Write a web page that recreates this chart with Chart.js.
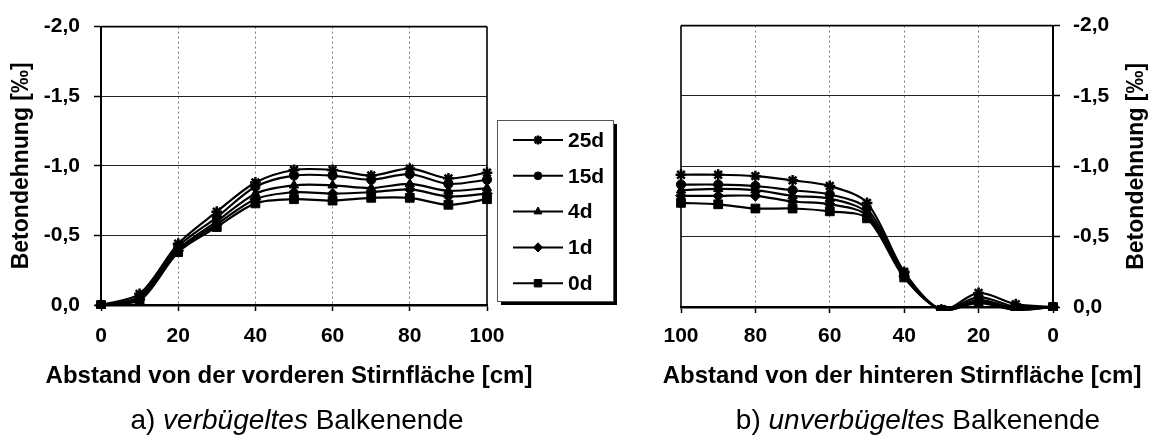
<!DOCTYPE html>
<html>
<head>
<meta charset="utf-8">
<script src="https://cdn.jsdelivr.net/npm/chart.js@4.4.0/dist/chart.umd.min.js"></script>
<style>
  html, body { margin: 0; padding: 0; background: #fff; }
  #wrap { position: relative; width: 1154px; height: 447px; overflow: hidden; background: #fff; }
  canvas { position: absolute; top: 0; }
  #cLeft { left: 0; }
  #cRight { left: 620px; }
</style>
</head>
<body>
<div id="wrap">
  <canvas id="cLeft" width="620" height="447"></canvas>
  <canvas id="cRight" width="534" height="447"></canvas>
</div>
<script>
// Age of the concrete at loading
const seriesNames = ['25d', '15d', '4d', '1d', '0d'];
const markerStyles = ['star', 'circle', 'triangle', 'rectRot', 'rect'];
const markerRadii = [5.4, 4.6, 5.4, 5.4, 6.2];

// Tick labels
const strainTicks = [-2.0, -1.5, -1.0, -0.5, 0.0];
const distanceTicks = [0, 20, 40, 60, 80, 100];

// a) end with stirrups: distance from the front face [cm]
const frontDistance = [0, 10, 20, 30, 40, 50, 60, 70, 80, 90, 100];
const front25d = [0, -0.08, -0.44, -0.67, -0.88, -0.97, -0.97, -0.93, -0.98, -0.91, -0.95];
const front15d = [0, -0.06, -0.42, -0.63, -0.85, -0.93, -0.93, -0.90, -0.94, -0.87, -0.90];
const front4d  = [0, -0.05, -0.40, -0.60, -0.80, -0.86, -0.86, -0.84, -0.87, -0.82, -0.84];
const front1d  = [0, -0.04, -0.39, -0.58, -0.76, -0.81, -0.80, -0.81, -0.83, -0.78, -0.80];
const front0d  = [0, -0.03, -0.38, -0.56, -0.73, -0.76, -0.75, -0.77, -0.77, -0.72, -0.76];

// b) end without stirrups: distance from the rear face [cm]
const backDistance = [100, 90, 80, 70, 60, 50, 40, 30, 20, 10, 0];
const back25d = [-0.94, -0.94, -0.93, -0.90, -0.86, -0.74, -0.25, 0.02, -0.10, -0.02, 0];
const back15d = [-0.87, -0.87, -0.86, -0.83, -0.80, -0.70, -0.24, 0.02, -0.07, 0.00, 0];
const back4d  = [-0.83, -0.84, -0.83, -0.79, -0.77, -0.67, -0.23, 0.02, -0.05, 0.01, 0];
const back1d  = [-0.79, -0.79, -0.79, -0.75, -0.73, -0.65, -0.22, 0.02, -0.04, 0.02, 0];
const back0d  = [-0.74, -0.73, -0.70, -0.70, -0.68, -0.63, -0.21, 0.02, -0.03, 0.02, 0];

// Axis titles and captions
const strainTitle = 'Betondehnung [‰]';
const frontTitle = 'Abstand von der vorderen Stirnfläche [cm]';
const backTitle = 'Abstand von der hinteren Stirnfläche [cm]';
const captionLeft = ['a) ', 'verbügeltes', ' Balkenende'];
const captionRight = ['b) ', 'unverbügeltes', ' Balkenende'];

const FONT = "'Liberation Sans', Arial, Helvetica, sans-serif";
const TICK_FONT = { family: FONT, size: 21, weight: 'bold' };
const Y_TITLE_FONT = { family: FONT, size: 23, weight: 'bold' };
const X_TITLE_PX = 24;
const CAPTION_PX = 28;
const X_TITLE_Y = 376;
const CAPTION_Y = 421;

const strainLabel = v => Number(v).toFixed(1).replace('.', ',');

function buildDatasets(xs, seriesList) {
  return seriesList.map((vals, i) => ({
    label: seriesNames[i],
    data: xs.map((x, j) => ({ x: x, y: vals[j] })),
    borderColor: '#000',
    backgroundColor: '#000',
    borderWidth: 2.2,
    tension: 0.3,
    fill: false,
    pointStyle: markerStyles[i],
    pointRadius: markerRadii[i],
    pointBorderWidth: markerStyles[i] === 'star' ? 2.5 : 1,
    pointBackgroundColor: '#000',
    pointBorderColor: '#000',
    clip: { left: 10, right: 10, top: 10, bottom: 4 }
  }));
}

// thin frame lines on the sides of the plot area that carry no axis
const framePlugin = {
  id: 'frame',
  beforeDatasetsDraw(chart, args, o) {
    const { ctx, chartArea: a } = chart;
    ctx.save();
    ctx.strokeStyle = '#000';
    ctx.lineWidth = 1.6;
    ctx.beginPath();
    ctx.moveTo(a.left, a.top);
    ctx.lineTo(a.right, a.top);
    if (o.side === 'right') {
      ctx.moveTo(a.right, a.top);
      ctx.lineTo(a.right, a.bottom);
    } else {
      ctx.moveTo(a.left, a.top);
      ctx.lineTo(a.left, a.bottom);
    }
    ctx.stroke();
    ctx.restore();
  }
};

function drawMarker(ctx, style, r, bw, x, y) {
  if (Chart.helpers && Chart.helpers.drawPoint) {
    ctx.fillStyle = '#000';
    ctx.strokeStyle = '#000';
    ctx.lineWidth = bw;
    Chart.helpers.drawPoint(ctx, { pointStyle: style, radius: r, rotation: 0, borderWidth: bw }, x, y);
  }
}

// legend box with drop shadow, built from the chart's datasets
const legendPlugin = {
  id: 'boxLegend',
  afterDraw(chart, args, o) {
    const { ctx } = chart;
    const x0 = o.x, y0 = o.y, w = o.w, h = o.h, sh = 4;
    ctx.save();
    ctx.fillStyle = '#fff';
    ctx.fillRect(x0, y0, w, h);
    ctx.fillStyle = '#000';
    ctx.fillRect(x0 + w, y0 + sh, sh, h);
    ctx.fillRect(x0 + sh, y0 + h, w, sh);
    ctx.strokeStyle = '#555';
    ctx.lineWidth = 1;
    ctx.strokeRect(x0 + 0.5, y0 + 0.5, w, h);
    chart.data.datasets.forEach((ds, i) => {
      const y = o.firstRow + i * o.rowGap;
      ctx.strokeStyle = '#000';
      ctx.lineWidth = 2;
      ctx.beginPath();
      ctx.moveTo(o.lineX0, y);
      ctx.lineTo(o.lineX1, y);
      ctx.stroke();
      drawMarker(ctx, ds.pointStyle, ds.pointRadius * 0.85, ds.pointBorderWidth, (o.lineX0 + o.lineX1) / 2, y);
      ctx.fillStyle = '#000';
      ctx.font = 'bold 21px ' + FONT;
      ctx.textAlign = 'left';
      ctx.textBaseline = 'middle';
      ctx.fillText(ds.label, o.textX, y + 1);
    });
    ctx.restore();
  }
};

// texts around the plot: x-axis title, caption, optional right-hand y title
const textsPlugin = {
  id: 'texts',
  afterDraw(chart, args, o) {
    const { ctx, chartArea: a } = chart;
    ctx.save();
    ctx.fillStyle = '#000';
    ctx.textBaseline = 'middle';

    // x-axis title
    ctx.font = 'bold ' + X_TITLE_PX + 'px ' + FONT;
    ctx.textAlign = 'center';
    ctx.fillText(o.xTitle, o.xTitleCx, X_TITLE_Y);

    // caption, emphasised middle word
    const fonts = [CAPTION_PX + 'px ' + FONT, 'italic ' + CAPTION_PX + 'px ' + FONT, CAPTION_PX + 'px ' + FONT];
    let total = 0;
    const widths = o.caption.map((t, i) => { ctx.font = fonts[i]; const w = ctx.measureText(t).width; total += w; return w; });
    let x = o.captionCx - total / 2;
    ctx.textAlign = 'left';
    o.caption.forEach((t, i) => { ctx.font = fonts[i]; ctx.fillText(t, x, CAPTION_Y); x += widths[i]; });

    // y title on the right, reading bottom to top
    if (o.yTitleX) {
      ctx.translate(o.yTitleX, (a.top + a.bottom) / 2);
      ctx.rotate(-Math.PI / 2);
      ctx.font = 'bold ' + Y_TITLE_FONT.size + 'px ' + FONT;
      ctx.textAlign = 'center';
      ctx.fillText(strainTitle, 0, 0);
    }
    ctx.restore();
  }
};

function xScale(reverse, tickPad, height) {
  return {
    type: 'linear', min: 0, max: 100, reverse: reverse,
    afterBuildTicks: s => { s.ticks = distanceTicks.map(v => ({ value: v })); },
    afterFit: s => { s.height = height; },
    ticks: { font: TICK_FONT, color: '#000', padding: tickPad, maxRotation: 0, autoSkip: false },
    grid: {
      color: c => (c.tick && (c.tick.value === 0 || c.tick.value === 100)) ? 'rgba(0,0,0,0)' : '#777',
      lineWidth: 1, tickLength: 6, tickColor: '#000', tickWidth: 1.5
    },
    border: { display: true, color: '#000', width: 2.5, dash: [2, 3] },
    title: { display: false }
  };
}

function yScale(position, width, tickPad, withTitle) {
  const s = {
    position: position, min: -2, max: 0, reverse: true,
    afterBuildTicks: sc => { sc.ticks = strainTicks.map(v => ({ value: v })); },
    afterFit: sc => { sc.width = width; },
    ticks: { font: TICK_FONT, color: '#000', padding: tickPad, callback: v => strainLabel(v) },
    grid: { color: '#222', lineWidth: 1, tickLength: 7, tickColor: '#000', tickWidth: 1.5 },
    border: { display: true, color: '#000', width: 2 },
    title: { display: false }
  };
  if (withTitle) {
    s.title = { display: true, text: strainTitle, font: Y_TITLE_FONT, color: '#000', padding: { top: 8, bottom: 0 } };
  }
  return s;
}

new Chart(document.getElementById('cLeft'), {
  type: 'line',
  data: { datasets: buildDatasets(frontDistance, [front25d, front15d, front4d, front1d, front0d]) },
  options: {
    responsive: false, animation: false,
    layout: { padding: { left: 0, top: 19, right: 133, bottom: 39.2 } },
    plugins: {
      legend: { display: false }, tooltip: { enabled: false }, title: { display: false },
      frame: { side: 'right' },
      texts: { xTitle: frontTitle, xTitleCx: 289, caption: captionLeft, captionCx: 297 },
      boxLegend: { x: 497, y: 120, w: 116, h: 181, firstRow: 140, rowGap: 35.8, lineX0: 513, lineX1: 563, textX: 568 }
    },
    scales: {
      x: xScale(false, 13, 102.8),
      y: yScale('left', 101, 14, true)
    }
  },
  plugins: [framePlugin, legendPlugin, textsPlugin]
});

new Chart(document.getElementById('cRight'), {
  type: 'line',
  data: { datasets: buildDatasets(backDistance, [back25d, back15d, back4d, back1d, back0d]) },
  options: {
    responsive: false, animation: false,
    layout: { padding: { left: 61, top: 19, right: 0, bottom: 39.2 } },
    plugins: {
      legend: { display: false }, tooltip: { enabled: false }, title: { display: false },
      frame: { side: 'left' },
      texts: { xTitle: backTitle, xTitleCx: 282, caption: captionRight, captionCx: 298, yTitleX: 517 }
    },
    scales: {
      x: xScale(true, 11, 100.8),
      y: yScale('right', 101, 13, false)
    }
  },
  plugins: [framePlugin, textsPlugin]
});
</script>
</body>
</html>
